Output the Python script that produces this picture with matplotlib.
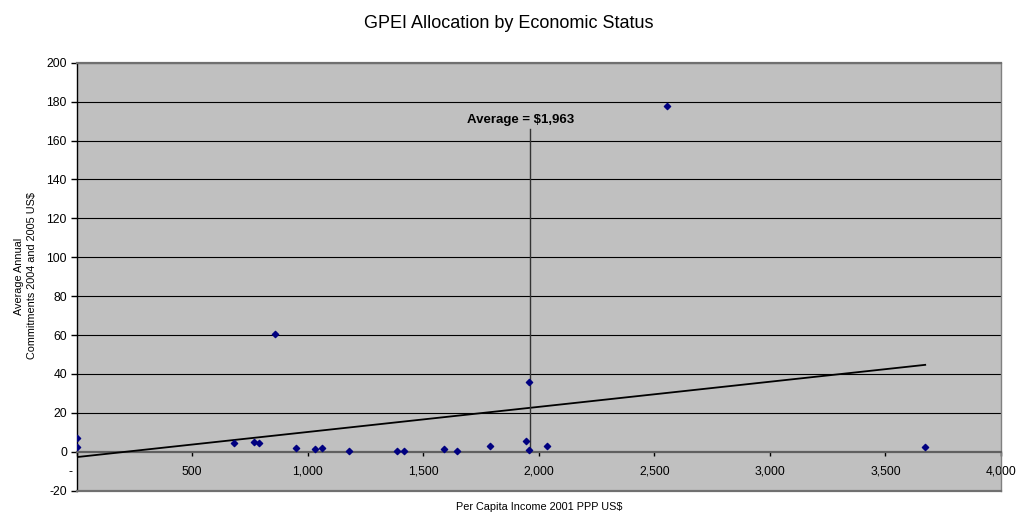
import numpy as np
import matplotlib
matplotlib.use("Agg")
import matplotlib.pyplot as plt
from matplotlib.transforms import ScaledTranslation

plt.rcParams['font.family'] = ['Liberation Sans', 'DejaVu Sans']
plt.rcParams['axes.unicode_minus'] = False

# per capita income (2001 PPP US$) and average annual commitments
income = [0, 0, 680, 769, 790, 860, 950, 1030, 1060, 1180, 1388, 1418,
          1588, 1647, 1788, 1945, 1957, 1957, 2037, 2553, 3672]
commit = [7.2, 2.2, 4.6, 5.0, 4.5, 60.5, 1.7, 1.4, 1.9, 0.2, 0.5, 0.5,
          1.4, 0.4, 2.8, 5.4, 0.9, 35.8, 3.1, 177.5, 2.3]
average = 1963
avg_top = 166

xticks = [0, 500, 1000, 1500, 2000, 2500, 3000, 3500, 4000]
xlabels = ['-', '500', '1,000', '1,500', '2,000', '2,500', '3,000', '3,500', '4,000']
yticks = list(range(-20, 201, 20))

fig = plt.figure(figsize=(10.19, 5.16), dpi=100)
W, H = 1019, 516
ax = fig.add_axes([76.7 / W, (H - 490.6) / H, (1001 - 76.7) / W, (490.6 - 62.7) / H])
ax.set_facecolor('#c0c0c0')

ax.set_xlim(0, 4000)
ax.set_ylim(-20, 200)

for y in yticks[2:]:
    ax.axhline(y, color='black', lw=0.8, zorder=1)

# linear trend over the data range
x = np.array(income, dtype=float)
y = np.array(commit)
k, b = np.polyfit(x, y, 1)
xs = np.array([x.min(), x.max()])
ax.plot(xs, k * xs + b, color='black', lw=1.3, zorder=3)

ax.plot([average, average], [0, avg_top], color='#333333', lw=1, zorder=3)
ax.text(average - 40, avg_top + 1.5, 'Average = $1,963', ha='center', va='bottom',
        fontsize=9.5, fontweight='bold')

ax.scatter(income, commit, marker='D', s=10, color='#000080', zorder=4)

# axis line through zero
ax.spines['bottom'].set_position(('data', 0))
ax.spines['bottom'].set_color('#606060')
ax.spines['bottom'].set_linewidth(1.6)
ax.axhline(-20, color='#707070', lw=1.6, clip_on=False, zorder=5)
ax.spines['top'].set_color('#707070')
ax.spines['top'].set_linewidth(1.6)
ax.spines['right'].set_color('#808080')
ax.spines['right'].set_linewidth(1)
ax.spines['left'].set_color('black')
ax.spines['left'].set_linewidth(1)

ax.set_xticks(xticks)
ax.set_xticklabels(xlabels)
ax.set_yticks(yticks)
ax.tick_params(axis='x', direction='out', length=3, width=1, pad=7, labelsize=8.7)
ax.tick_params(axis='y', direction='out', length=4, width=1, pad=3, labelsize=8.7)
dash = ax.get_xticklabels()[0]
dash.set_transform(dash.get_transform() + ScaledTranslation(-0.06, 0, fig.dpi_scale_trans))

fig.text(509 / W, 1 - 24 / H, 'GPEI Allocation by Economic Status', ha='center',
         va='center', fontsize=13)
fig.text(539 / W, 1 - 507 / H, 'Per Capita Income 2001 PPP US$', ha='center',
         va='center', fontsize=7.8)
fig.text(25.5 / W, 1 - 276 / H, 'Average Annual\nCommitments 2004 and 2005 US$',
         ha='center', va='center', rotation=90, fontsize=7.8, linespacing=1.4)

fig.savefig('out.png', dpi=100)
